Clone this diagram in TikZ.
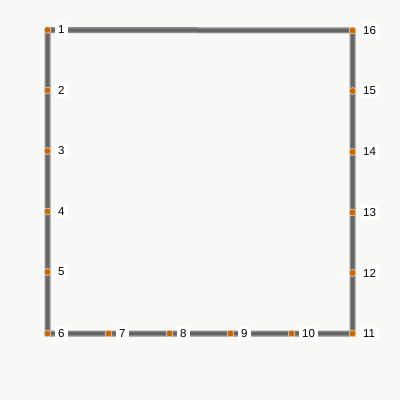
\documentclass[tikz,border=0pt]{standalone}
\usepackage{fontspec}
\setmainfont{Liberation Sans}
\definecolor{bg}{RGB}{248,248,247}
\definecolor{ln}{RGB}{140,140,140}
\definecolor{lncore}{RGB}{100,100,100}
\definecolor{dot}{RGB}{204,102,0}
\begin{document}
\begin{tikzpicture}[x=1pt,y=-1pt,
  pt/.style={circle,fill=dot,draw=white,line width=0.4pt,inner sep=0pt,minimum size=7pt},
  lbl/.style={fill=white,inner xsep=3.5pt,inner ysep=3pt,font=\fontsize{11.5}{11.5}\selectfont,anchor=west},
  track/.style={draw=ln,line width=6pt,line join=miter},
  trackcore/.style={draw=lncore,line width=3pt,line join=miter}]
\fill[bg] (0,0) rectangle (400,400);
\useasboundingbox (0,0) rectangle (400,400);
\coordinate (c1) at (47.5,30);
\coordinate (c2) at (47.5,90.5);
\coordinate (c3) at (47.5,151);
\coordinate (c4) at (47.5,211.5);
\coordinate (c5) at (47.5,272);
\coordinate (c6) at (47.5,333.5);
\coordinate (c7) at (108.5,333.5);
\coordinate (c8) at (169.5,333.5);
\coordinate (c9) at (230.5,333.5);
\coordinate (c10) at (291.5,333.5);
\coordinate (c11) at (352.5,333.5);
\coordinate (c12) at (352.5,273);
\coordinate (c13) at (352.5,212.5);
\coordinate (c14) at (352.5,152);
\coordinate (c15) at (352.5,91);
\coordinate (c16) at (352.5,30.5);
\draw[track] (c1) -- (c6) -- (c11) -- (c16) -- (c1);
\draw[trackcore] (c1) -- (c6) -- (c11) -- (c16) -- (c1);
\foreach \i in {1,...,16}{
  \node[lbl] (l\i) at ([xshift=7pt]c\i) {\i};
  \node[pt] (p\i) at (c\i) {};
}
\end{tikzpicture}
\end{document}
